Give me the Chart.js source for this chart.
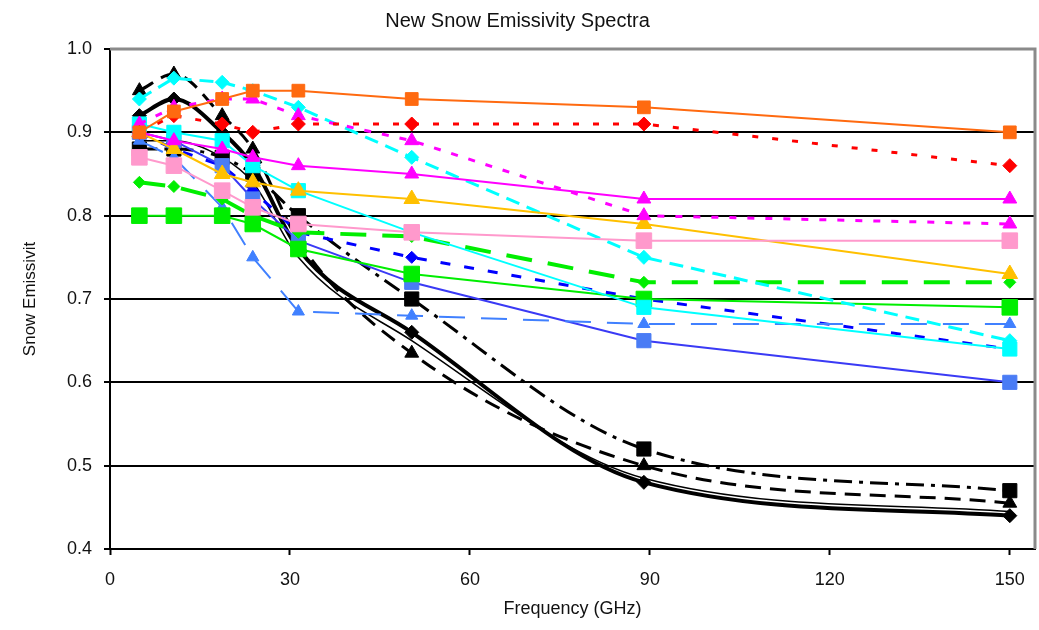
<!DOCTYPE html>
<html>
<head>
<meta charset="utf-8">
<script src="https://cdn.jsdelivr.net/npm/chart.js@4/dist/chart.umd.min.js"></script>
<style>
  html, body { margin: 0; padding: 0; background: #fff; overflow: hidden; }
  canvas { display: block; }
</style>
</head>
<body>
<canvas id="spectraChart" width="1039" height="630"></canvas>
<script>
// Channel frequencies (GHz)
const freqs = [4.9, 10.65, 18.7, 23.8, 31.4, 50.3, 89, 150];

// Emissivity per snow sample
const orangeSq   = [0.90, 0.925, 0.94, 0.95, 0.95, 0.94, 0.93, 0.90];
const redDot     = [0.90, 0.92, 0.91, 0.90, 0.91, 0.91, 0.91, 0.86];
const magentaTri = [0.90, 0.89, 0.88, 0.87, 0.86, 0.85, 0.82, 0.82];
const magentaDot = [0.91, 0.93, 0.94, 0.94, 0.92, 0.89, 0.80, 0.79];
const pinkSq     = [0.87, 0.86, 0.83, 0.81, 0.79, 0.78, 0.77, 0.77];
const goldTri    = [0.90, 0.88, 0.85, 0.84, 0.83, 0.82, 0.79, 0.73];
const cyanSq     = [0.91, 0.90, 0.89, 0.86, 0.83, 0.78, 0.69, 0.64];
const cyanDash   = [0.94, 0.965, 0.96, 0.95, 0.93, 0.87, 0.75, 0.65];
const greenDash  = [0.84, 0.835, 0.82, 0.80, 0.78, 0.775, 0.72, 0.72];
const greenSq    = [0.80, 0.80, 0.80, 0.79, 0.76, 0.73, 0.70, 0.69];
const skyDash    = [0.89, 0.87, 0.81, 0.75, 0.685, 0.68, 0.67, 0.67];
const blueSq     = [0.90, 0.89, 0.86, 0.82, 0.77, 0.72, 0.65, 0.60];
const navyDash   = [0.90, 0.88, 0.86, 0.83, 0.78, 0.75, 0.70, 0.64];
const blackThick = [0.92, 0.94, 0.90, 0.86, 0.76, 0.66, 0.48, 0.44];
const blackDash  = [0.95, 0.97, 0.92, 0.88, 0.77, 0.635, 0.50, 0.455];
const blackDot   = [0.88, 0.88, 0.87, 0.85, 0.80, 0.70, 0.52, 0.47];
const blackThin  = [0.89, 0.89, 0.87, 0.84, 0.75, 0.65, 0.485, 0.445];

const xTicks = [0, 30, 60, 90, 120, 150];
const yTicks = [0.4, 0.5, 0.6, 0.7, 0.8, 0.9, 1.0];

function pts(vals) {
    return vals.map((v, i) => ({ x: freqs[i], y: v }));
}

function series(label, vals, color, style, opts) {
    return Object.assign({
        label: label,
        data: pts(vals),
        borderColor: color,
        backgroundColor: color,
        pointBackgroundColor: color,
        pointBorderColor: color,
        pointStyle: style,
        pointRadius: 8,
        pointBorderWidth: 1,
        borderWidth: 2,
        tension: 0,
        fill: false,
        clip: false
    }, opts || {});
}

const datasets = [
    series('Sample 1', orangeSq, '#ff6a10', 'rect', { pointRadius: 9 }),
    series('Sample 2', redDot, '#ff0000', 'rectRot', { borderDash: [6, 14], borderWidth: 3, pointRadius: 7 }),
    series('Sample 3', magentaTri, '#ff00ff', 'triangle'),
    series('Sample 4', magentaDot, '#ff00ff', 'triangle', { borderDash: [7, 11], borderWidth: 3 }),
    series('Sample 5', pinkSq, '#ff99cc', 'rect', { pointRadius: 11 }),
    series('Sample 6', goldTri, '#ffc000', 'triangle', { pointRadius: 9 }),
    series('Sample 7', cyanSq, '#00ffff', 'rect', { pointRadius: 10 }),
    series('Sample 8', cyanDash, '#00ffff', 'rectRot', { borderDash: [14, 8], borderWidth: 3, pointRadius: 7 }),
    series('Sample 9', greenDash, '#00ee00', 'rectRot', { borderDash: [26, 16], borderWidth: 4, pointRadius: 6 }),
    series('Sample 10', greenSq, '#00ee00', 'rect', { pointRadius: 11 }),
    series('Sample 11', skyDash, '#4080ff', 'triangle', { borderDash: [26, 16], borderWidth: 2, pointRadius: 7 }),
    series('Sample 12', blueSq, '#3a3af5', 'rect', { pointRadius: 10, pointBackgroundColor: '#4a7cf5', pointBorderColor: '#4a7cf5' }),
    series('Sample 13', navyDash, '#0000ff', 'rectRot', { borderDash: [10, 14], borderWidth: 3, pointRadius: 6 }),
    series('Sample 14', blackThick, '#000000', 'rectRot', { borderWidth: 4, pointRadius: 7, cubicInterpolationMode: 'monotone' }),
    series('Sample 15', blackDash, '#000000', 'triangle', { borderDash: [16, 9], borderWidth: 3, pointRadius: 8, cubicInterpolationMode: 'monotone' }),
    series('Sample 16', blackDot, '#000000', 'rect', { borderDash: [18, 7, 4, 7], borderWidth: 3, pointRadius: 10, cubicInterpolationMode: 'monotone' }),
    series('Sample 17', blackThin, '#000000', 'circle', { borderWidth: 1.5, pointRadius: 0, cubicInterpolationMode: 'monotone' })
];

// Grey frame around the plot area (top and right edges)
const plotFrame = {
    id: 'plotFrame',
    beforeDatasetsDraw(chart) {
        const a = chart.chartArea;
        const ctx = chart.ctx;
        ctx.save();
        ctx.strokeStyle = '#8a8a8a';
        ctx.lineWidth = 3;
        ctx.beginPath();
        ctx.moveTo(a.left, a.top);
        ctx.lineTo(a.right, a.top);
        ctx.lineTo(a.right, a.bottom);
        ctx.stroke();
        ctx.restore();
    }
};

const fontFamily = "'Liberation Sans', Arial, sans-serif";

new Chart(document.getElementById('spectraChart').getContext('2d'), {
    type: 'line',
    data: { datasets: datasets },
    plugins: [plotFrame],
    options: {
        responsive: false,
        animation: false,
        layout: { autoPadding: false, padding: { left: 0, right: 4, top: 0, bottom: 0 } },
        plugins: {
            legend: { display: false },
            tooltip: { enabled: false },
            title: {
                display: true,
                text: 'New Snow Emissivity Spectra',
                color: '#111',
                font: { family: fontFamily, size: 20, weight: 'normal' },
                padding: { top: 9, bottom: 16 }
            }
        },
        scales: {
            x: {
                type: 'linear',
                min: 0,
                max: 154.2,
                afterBuildTicks: function(scale) {
                    scale.ticks = xTicks.map(v => ({ value: v }));
                },
                afterFit: function(scale) {
                    scale.height = 81;
                    scale.paddingLeft = 0;
                    scale.paddingRight = 0;
                },
                ticks: {
                    color: '#111',
                    padding: 14,
                    font: { family: fontFamily, size: 18 }
                },
                grid: {
                    drawOnChartArea: false,
                    drawTicks: true,
                    tickLength: 6,
                    tickColor: '#000',
                    tickWidth: 2
                },
                border: { color: '#000', width: 2 },
                title: {
                    display: true,
                    text: 'Frequency (GHz)',
                    color: '#111',
                    font: { family: fontFamily, size: 18 },
                    padding: { top: 0, bottom: 10 }
                }
            },
            y: {
                min: 0.4,
                max: 1.0,
                afterBuildTicks: function(scale) {
                    scale.ticks = yTicks.map(v => ({ value: v }));
                },
                afterFit: function(scale) {
                    scale.width = 110;
                    scale.paddingTop = 0;
                    scale.paddingBottom = 0;
                },
                ticks: {
                    color: '#111',
                    padding: 12,
                    font: { family: fontFamily, size: 18 },
                    callback: function(value) { return value.toFixed(1); }
                },
                grid: {
                    color: function(ctx) {
                        return ctx.tick && ctx.tick.value >= 0.99 ? 'rgba(0,0,0,0)' : '#000';
                    },
                    lineWidth: 2,
                    drawTicks: true,
                    tickLength: 6,
                    tickColor: '#000',
                    tickWidth: 2
                },
                border: { color: '#000', width: 2 },
                title: {
                    display: true,
                    text: 'Snow Emissivit',
                    color: '#111',
                    font: { family: fontFamily, size: 17 },
                    padding: { top: 20, bottom: 0 }
                }
            }
        }
    }
});
</script>
</body>
</html>
